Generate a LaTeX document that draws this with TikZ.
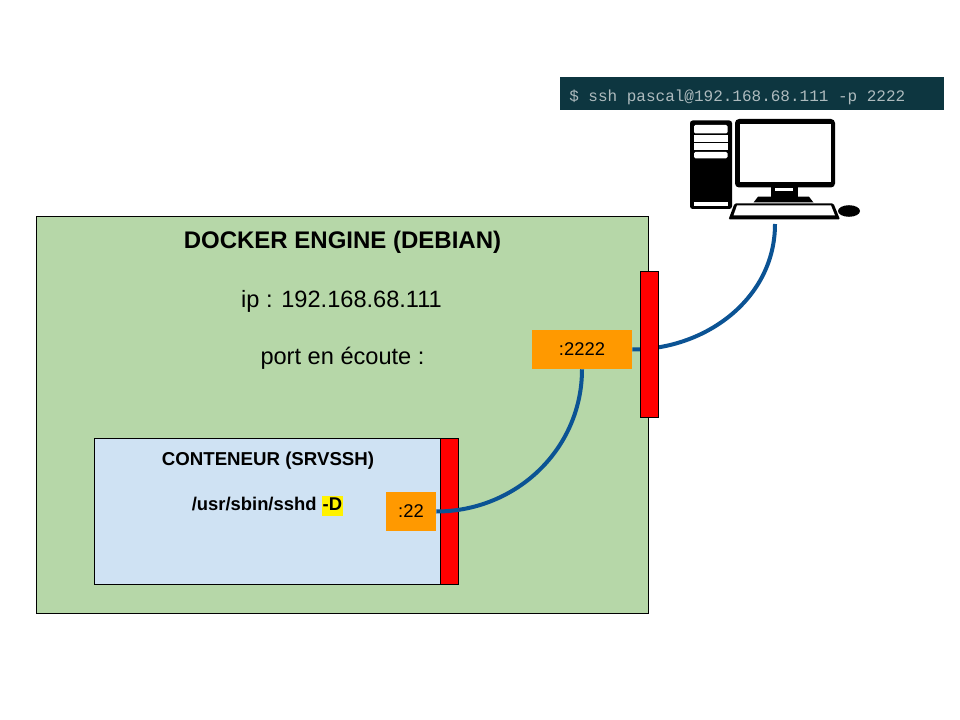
\documentclass[tikz,border=0pt]{standalone}
\usepackage{fontspec}
\setmainfont{Liberation Sans}
\newfontfamily\termfont{Liberation Mono}
\definecolor{enginegreen}{HTML}{B6D7A8}
\definecolor{boxblue}{HTML}{CFE2F3}
\definecolor{portorange}{HTML}{FF9900}
\definecolor{linkblue}{HTML}{0B5394}
\definecolor{termdark}{HTML}{0D3640}
\definecolor{termtext}{HTML}{AEBBBE}
\begin{document}
\begin{tikzpicture}[x=0.75pt,y=-0.75pt]
% size of one pixel
\def\px{0.75pt}
% node style definition
\tikzstyle{block} = [
	draw=black, line width=0.75pt, rectangle, inner sep=0pt ];
\tikzstyle{port} = [
	fill=portorange, rectangle, inner sep=0pt, font=\fontsize{13.8pt}{16pt}\selectfont ];
\tikzstyle{plain} = [draw=none, fill=none, inner sep=0pt];
\tikzstyle{link} = [draw=linkblue, line width=3pt];
\tikzstyle{ink} = [fill=black, draw=none];
\tikzstyle{blank} = [fill=white, draw=none];
\useasboundingbox (0,0) rectangle (960,720);
% boxes
\node[block, fill=enginegreen, minimum width=612*\px, minimum height=397*\px] (engine) at (342.5,415) {};
\node[block, fill=boxblue, minimum width=346.5*\px, minimum height=146*\px] (conteneur) at (267.75,511.5) {};
\node[block, fill=red, minimum width=18*\px, minimum height=146*\px] (barsmall) at (449.5,511.5) {};
% labels
\node[plain, font=\fontsize{18pt}{20pt}\selectfont\bfseries] (title) at (342.5,242) {DOCKER ENGINE (DEBIAN)};
\node[plain, font=\fontsize{17.7pt}{20pt}\selectfont] (ip) at (341.5,301) {ip : 192.168.68.111};
\node[plain, font=\fontsize{17.7pt}{20pt}\selectfont] (ecoute) at (342.5,358) {port en écoute :};
\node[plain, font=\fontsize{14pt}{16pt}\selectfont\bfseries] (nom) at (268,461) {CONTENEUR (SRVSSH)};
\setlength{\fboxsep}{0.8pt}
\node[plain, font=\fontsize{13.8pt}{16pt}\selectfont\bfseries] (cmd) at (267.5,505.5) {/usr/sbin/sshd \colorbox{yellow}{\rule[-3pt]{0pt}{13.4pt}-D}};
% ports
\node[port, minimum width=50*\px, minimum height=39*\px] (p22) at (411,511.5) {:22};
\node[port, minimum width=100*\px, minimum height=39*\px] (p2222) at (582,349.5) {:2222};
% computer
\coordinate (pc) at (775,224);
\draw[link] (p2222.south) to[out=-90,in=0] (p22.east);
\draw[link] (p2222.east) to[out=0,in=-90] (pc);
\node[block, fill=red, minimum width=17.5*\px, minimum height=145.5*\px] (barbig) at (649.25,344.25) {};
% terminal
\node[plain, fill=termdark, minimum width=384*\px, minimum height=33*\px] (term) at (752,93.5) {};
\node[plain, anchor=west, text=termtext, font=\termfont\fontsize{12pt}{14pt}\selectfont] (cde) at (569,97) {\$ ssh pascal@192.168.68.111 -p 2222};
% tower
\fill[ink, rounded corners=2pt] (690,120.5) rectangle (732,209);
\fill[blank, rounded corners=1pt] (694,125) rectangle (727.5,133.5);
\fill[blank] (694,135) rectangle (727.5,142);
\fill[blank] (694,143.5) rectangle (727.5,150.5);
\fill[blank, rounded corners=1pt] (694,152) rectangle (727.5,158.3);
\fill[blank] (694,202.5) rectangle (727.5,206.5);
% screen
\fill[ink, rounded corners=3pt] (735,119) rectangle (835,187.5);
\fill[blank] (739.5,124) rectangle (830.5,182.5);
\fill[ink] (771,187) rectangle (797.5,197);
\fill[blank] (775,188.5) rectangle (793,191.5);
\fill[ink] (758,196.7) -- (809,196.7) -- (813.5,202.5) -- (753.5,202.5) -- cycle;
% keyboard and mouse
\fill[ink, rounded corners=1pt] (734.5,203.5) -- (833.5,203.5) -- (840,219.5) -- (728.5,219.5) -- cycle;
\fill[blank] (737,205.5) -- (831,205.5) -- (835,215.5) -- (733.5,215.5) -- cycle;
\fill[ink] (849,211) ellipse (11 and 5.8);
\end{tikzpicture}
\end{document}
